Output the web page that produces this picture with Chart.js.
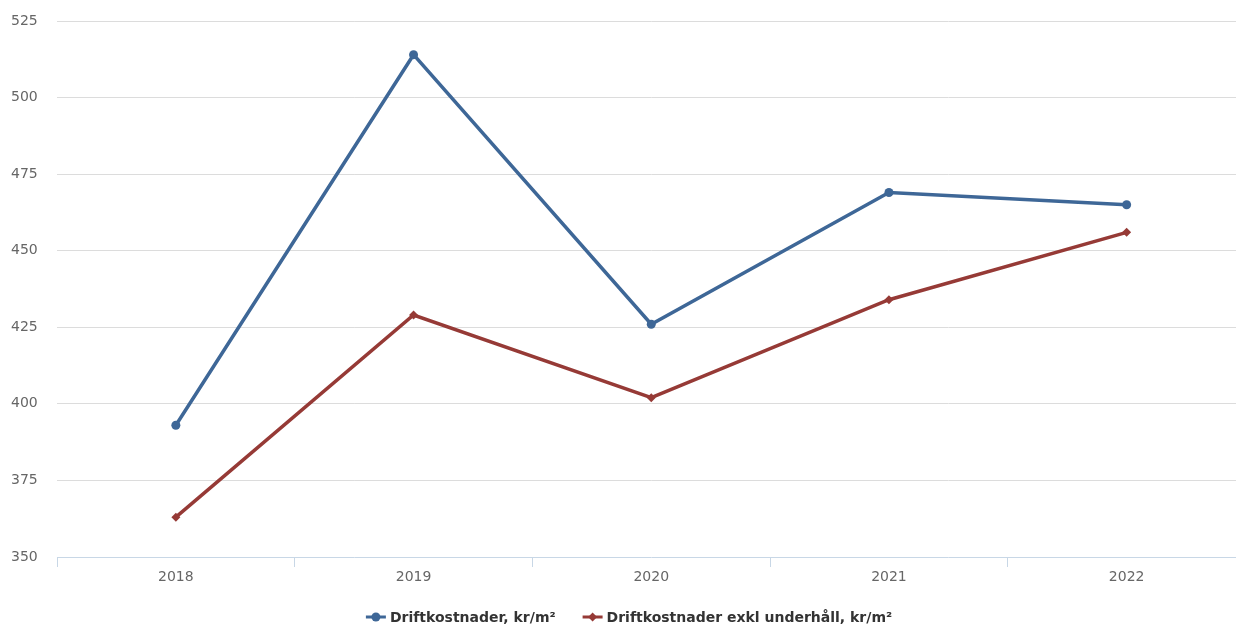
<!DOCTYPE html>
<html>
<head>
<meta charset="utf-8">
<script src="https://cdn.jsdelivr.net/npm/chart.js@4/dist/chart.umd.min.js"></script>
<style>
  html, body { margin: 0; padding: 0; background: #fff; overflow: hidden; }
  #wrap { width: 1250px; height: 624px; }
</style>
</head>
<body>
<div id="wrap"><canvas id="chart" width="1250" height="624"></canvas></div>
<script>
const years = ["2018", "2019", "2020", "2021", "2022"];
const driftkostnader = [393, 514, 426, 469, 465];
const exklUnderhall = [363, 429, 402, 434, 456];
const yTicks = [350, 375, 400, 425, 450, 475, 500, 525];

const blue = "#3e6797";
const red = "#963a36";

// legend under the x axis: line + marker, then the label
const bottomLegend = {
  id: "bottomLegend",
  afterDraw(chart) {
    const g = chart.ctx;
    const y = 617;
    g.save();
    g.font = "bold 14px 'DejaVu Sans'";
    g.textBaseline = "middle";
    g.textAlign = "left";
    const items = chart.data.datasets.map((ds, i) => ({
      label: ds.label,
      color: ds.borderColor,
      shape: i === 0 ? "circle" : "diamond",
      w: g.measureText(ds.label).width
    }));
    const total = items.reduce((s, it) => s + 20 + 4 + it.w, 0) + 27 * (items.length - 1);
    let x = chart.width / 2 + 4 - total / 2;
    items.forEach(it => {
      g.strokeStyle = it.color;
      g.fillStyle = it.color;
      g.lineWidth = 3;
      g.beginPath(); g.moveTo(x, y); g.lineTo(x + 20, y); g.stroke();
      g.beginPath();
      if (it.shape === "circle") {
        g.arc(x + 10, y, 4.5, 0, Math.PI * 2);
      } else {
        g.moveTo(x + 10, y - 4.5); g.lineTo(x + 14.5, y); g.lineTo(x + 10, y + 4.5); g.lineTo(x + 5.5, y); g.closePath();
      }
      g.fill();
      x += 24;
      g.fillStyle = "#333";
      g.fillText(it.label, x, y + 1);
      x += it.w + 27;
    });
    g.restore();
  }
};

const ctx = document.getElementById("chart").getContext("2d");
new Chart(ctx, {
  type: "line",
  data: {
    labels: years,
    datasets: [
      {
        label: "Driftkostnader, kr/m²",
        data: driftkostnader,
        borderColor: blue,
        backgroundColor: blue,
        borderWidth: 3.5,
        pointStyle: "circle",
        pointRadius: 4.5,
        pointBorderWidth: 0,
        tension: 0
      },
      {
        label: "Driftkostnader exkl underhåll, kr/m²",
        data: exklUnderhall,
        borderColor: red,
        backgroundColor: red,
        borderWidth: 3.5,
        pointStyle: "rectRot",
        pointRadius: 4.5,
        pointBorderWidth: 0,
        tension: 0
      }
    ]
  },
  plugins: [bottomLegend],
  options: {
    responsive: false,
    animation: false,
    layout: { padding: { left: 11, right: 3, top: 21, bottom: 41 } },
    plugins: {
      tooltip: { enabled: false },
      legend: { display: false }
    },
    scales: {
      x: {
        offset: true,
        afterFit: axis => { axis.height = 26; },
        grid: {
          offset: true,
          drawOnChartArea: false,
          drawTicks: true,
          tickLength: 10,
          color: "#c8d7e6"
        },
        border: { color: "#c8d7e6", width: 1, z: 1 },
        ticks: {
          font: { family: "DejaVu Sans", size: 14 },
          color: "#666",
          padding: 2
        }
      },
      y: {
        min: 350,
        max: 525,
        afterBuildTicks: axis => { axis.ticks = yTicks.map(v => ({ value: v })); },
        afterFit: axis => { axis.width = 46; },
        grid: {
          color: c => (c.tick && c.tick.value === 350 ? "rgba(0,0,0,0)" : "#dcdcdc"),
          drawTicks: false
        },
        border: { display: false },
        ticks: {
          font: { family: "DejaVu Sans", size: 14 },
          color: "#666",
          padding: 0,
          crossAlign: "far"
        }
      }
    }
  }
});
</script>
</body>
</html>
